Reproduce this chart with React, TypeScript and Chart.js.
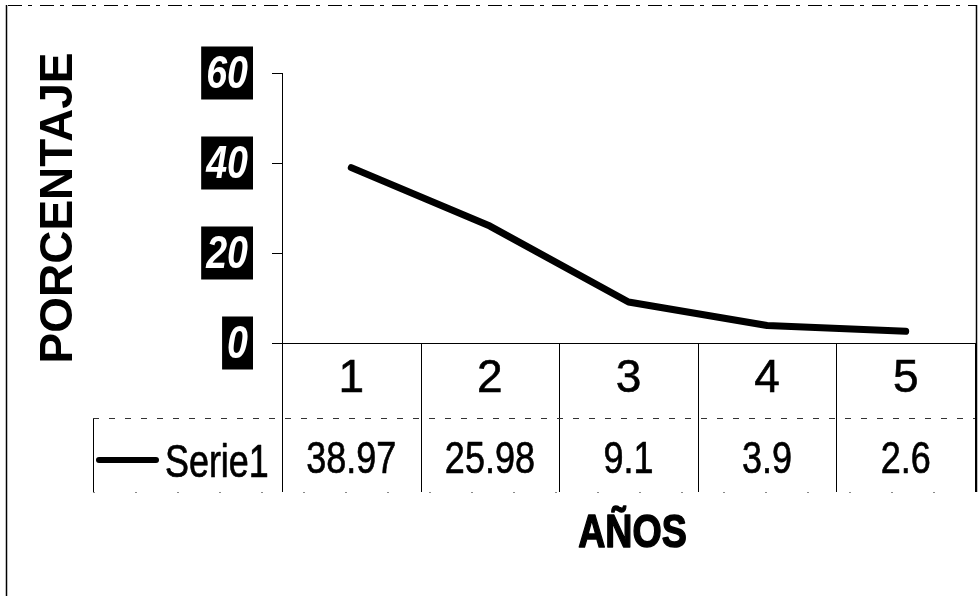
import React, { useEffect, useRef } from "react";
import { Chart, registerables } from "chart.js";

Chart.register(...registerables);

// ---- data ----
const categories: string[] = ["1", "2", "3", "4", "5"];
const serie1: number[] = [38.97, 25.98, 9.1, 3.9, 2.6];
const seriesName = "Serie1";
const yTickValues: number[] = [0, 20, 40, 60];
const yTitle = "PORCENTAJE";
const xTitle = "AÑOS";

const SANS = "'Liberation Sans', Arial, sans-serif";

const W = 979;
const H = 596;

function squeezeText(ctx: CanvasRenderingContext2D, text: string, x: number, y: number, align: string, sx: number, stroke = 0) {
  const w = ctx.measureText(text).width * sx;
  const left = align === "center" ? x - w / 2 : align === "right" ? x - w : x;
  ctx.save();
  ctx.translate(left, y);
  ctx.scale(sx, 1);
  ctx.textAlign = "left";
  ctx.fillText(text, 0, 0);
  if (stroke > 0) {
    ctx.lineWidth = stroke;
    ctx.strokeStyle = ctx.fillStyle as string;
    ctx.lineJoin = "round";
    ctx.strokeText(text, 0, 0);
  }
  ctx.restore();
  return w;
}

const tablePlugin = {
  id: "dataTable",
  beforeDraw(chart: any) {
    const { ctx } = chart;
    ctx.save();
    ctx.fillStyle = "#ffffff";
    ctx.fillRect(0, 0, chart.width, chart.height);
    ctx.restore();
  },
  afterDraw(chart: any) {
    const { ctx, chartArea } = chart;
    const x = chart.scales.x;
    const y = chart.scales.y;
    const ds = chart.data.datasets[0];
    const rowTop = chartArea.bottom;
    const sepY = rowTop + 75;
    const rowBottom = sepY + 74;
    const step = x.getPixelForValue(1) - x.getPixelForValue(0);
    const half = step / 2;
    const legendLeft = 93;

    ctx.save();
    // outer frame
    ctx.strokeStyle = "#000";
    ctx.lineWidth = 1.5;
    ctx.beginPath();
    ctx.moveTo(6.5, 5);
    ctx.lineTo(6.5, H);
    ctx.stroke();
    ctx.beginPath();
    ctx.moveTo(976.5, 5);
    ctx.lineTo(976.5, rowBottom);
    ctx.stroke();
    ctx.lineWidth = 1;
    ctx.setLineDash([14, 6, 4, 8]);
    ctx.beginPath();
    ctx.moveTo(8, 5.5);
    ctx.lineTo(976, 5.5);
    ctx.stroke();

    // y tick labels: white bold italic on black boxes
    ctx.setLineDash([]);
    ctx.font = `italic bold 47px ${SANS}`;
    ctx.textBaseline = "middle";
    const boxRight = y.left + y.width - 29;
    y.ticks.forEach((t: any) => {
      const py = y.getPixelForValue(t.value);
      const label = String(t.value);
      const tw = ctx.measureText(label).width * 0.8;
      const bw = tw + 10;
      ctx.fillStyle = "#000";
      ctx.fillRect(boxRight - bw, py - 26.5, bw, 53);
      ctx.fillStyle = "#fff";
      squeezeText(ctx, label, boxRight - 5, py + 2, "right", 0.8);
    });

    // table vertical lines
    ctx.strokeStyle = "#000";
    ctx.lineWidth = 1;
    for (let i = 0; i <= categories.length; i++) {
      const px = Math.round(x.getPixelForValue(i) - half) + 0.5;
      ctx.beginPath();
      ctx.moveTo(px, rowTop);
      ctx.lineTo(px, rowBottom);
      ctx.stroke();
    }
    // legend cell left line
    ctx.beginPath();
    ctx.moveTo(legendLeft + 0.5, sepY);
    ctx.lineTo(legendLeft + 0.5, rowBottom);
    ctx.stroke();
    // row separator (faded scan look)
    ctx.strokeStyle = "#333";
    ctx.setLineDash([6, 10]);
    ctx.beginPath();
    ctx.moveTo(legendLeft, sepY + 0.5);
    ctx.lineTo(chartArea.right, sepY + 0.5);
    ctx.stroke();
    ctx.strokeStyle = "#888";
    ctx.setLineDash([2, 40]);
    ctx.beginPath();
    ctx.moveTo(legendLeft, rowBottom + 0.5);
    ctx.lineTo(chartArea.right, rowBottom + 0.5);
    ctx.stroke();
    ctx.setLineDash([]);

    // legend key
    ctx.strokeStyle = ds.borderColor;
    ctx.lineWidth = 6;
    ctx.lineCap = "round";
    ctx.beginPath();
    ctx.moveTo(legendLeft + 6, sepY + 42);
    ctx.lineTo(legendLeft + 63, sepY + 42);
    ctx.stroke();

    ctx.fillStyle = "#000";
    ctx.textBaseline = "alphabetic";
    ctx.font = `46px ${SANS}`;
    squeezeText(ctx, seriesName, legendLeft + 72, sepY + 59, "left", 0.78, 0.7);

    ctx.font = `45px ${SANS}`;
    serie1.forEach((v, i) => {
      squeezeText(ctx, String(v), x.getPixelForValue(i), sepY + 55, "center", 0.8, 0.7);
    });

    // x axis title
    ctx.font = `bold 47px ${SANS}`;
    squeezeText(ctx, xTitle, (x.left + x.right) / 2 + 4, 547, "center", 0.8, 1.5);
    ctx.restore();
  },
};

export default function App() {
  const ref = useRef<HTMLCanvasElement | null>(null);

  useEffect(() => {
    if (!ref.current) return;
    const chart = new Chart(ref.current, {
      type: "line",
      data: {
        labels: categories,
        datasets: [
          {
            label: seriesName,
            data: serie1,
            borderColor: "#000000",
            backgroundColor: "#000000",
            borderWidth: 7,
            borderCapStyle: "round",
            borderJoinStyle: "round",
            pointRadius: 0,
            tension: 0,
            fill: false,
          },
        ],
      },
      options: {
        responsive: false,
        animation: false,
        devicePixelRatio: 1,
        layout: { padding: { left: 32, top: 73, right: 4, bottom: 39 } },
        plugins: {
          legend: { display: false },
          tooltip: { enabled: false },
          title: { display: false },
        },
        scales: {
          x: {
            type: "category",
            offset: true,
            grid: { display: false, drawTicks: false },
            border: { display: true, color: "#000", width: 1 },
            ticks: {
              color: "#000",
              padding: 9,
              maxRotation: 0,
              textStrokeColor: "#000",
              textStrokeWidth: 0.6,
              font: { family: SANS, size: 46 },
            },
            title: { display: false },
            afterFit: (scale: any) => {
              scale.height = 214;
            },
          },
          y: {
            type: "linear",
            min: 0,
            max: 60,
            afterBuildTicks: (scale: any) => {
              scale.ticks = yTickValues.map((v) => ({ value: v }));
            },
            grid: {
              display: true,
              drawOnChartArea: false,
              drawTicks: true,
              tickLength: 10,
              color: "#000",
              lineWidth: 1,
            },
            border: { display: true, color: "#000", width: 1 },
            ticks: { display: false },
            title: {
              display: true,
              text: yTitle,
              color: "#000",
              padding: 0,
              font: { family: SANS, size: 46, weight: "bold" },
            },
            afterFit: (scale: any) => {
              scale.width = 250;
            },
          },
        },
      },
      plugins: [tablePlugin],
    } as any);
    return () => chart.destroy();
  }, []);

  return (
    <div style={{ position: "absolute", left: 0, top: 0, width: W, height: H, background: "#fff" }}>
      <canvas ref={ref} width={W} height={H} style={{ display: "block", width: W, height: H }} />
    </div>
  );
}
